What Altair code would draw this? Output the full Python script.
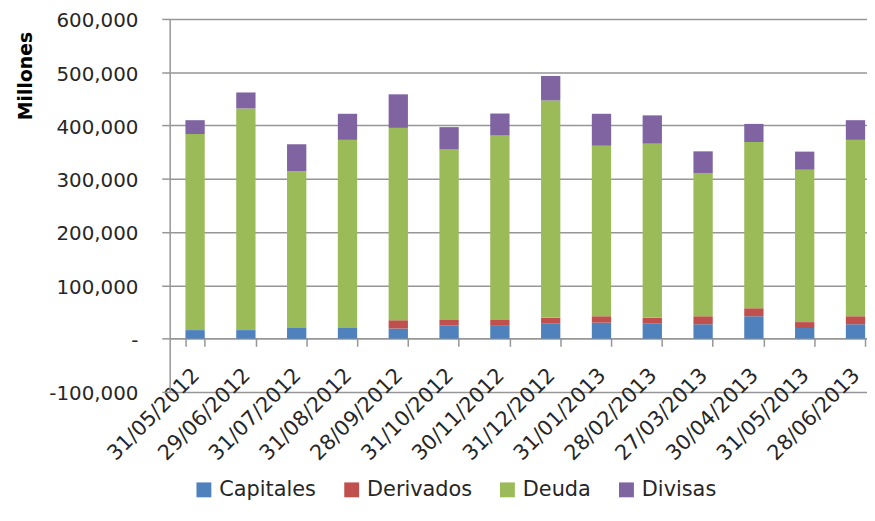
import altair as alt
import pandas as pd

fechas = ["31/05/2012", "29/06/2012", "31/07/2012", "31/08/2012", "28/09/2012",
          "31/10/2012", "30/11/2012", "31/12/2012", "31/01/2013", "28/02/2013",
          "27/03/2013", "30/04/2013", "31/05/2013", "28/06/2013"]
capitales = [16000, 16000, 20000, 20000, 19000, 25000, 24000, 28000, 30000, 28000, 27000, 42000, 20000, 27000]
derivados = [0, 0, 0, 0, 15500, 10000, 11000, 11000, 12000, 11000, 15000, 15000, 11000, 15000]
deuda = [368000, 416000, 294000, 353000, 361000, 320000, 346000, 408000, 320000, 327000, 268000, 312000, 286000, 331000]
divisas = [26000, 30000, 51000, 49000, 63000, 42000, 41500, 46000, 60000, 53000, 41500, 34000, 34000, 37000]

series = ["Capitales", "Derivados", "Deuda", "Divisas"]
colores = ["#4F81BD", "#C0504D", "#9BBB59", "#8064A2"]
y_ticks = [-100000, 0, 100000, 200000, 300000, 400000, 500000, 600000]

rows = []
for i, f in enumerate(fechas):
    for k, vals in enumerate([capitales, derivados, deuda, divisas]):
        rows.append({"Fecha": f, "Serie": series[k], "Valor": vals[i], "orden": k})
df = pd.DataFrame(rows)

FONT = "DejaVu Sans"
TXT = "#262626"
GRAY = "#969696"

y_label_expr = (
    "datum.value === 0 ? '-\u00a0\u00a0\u00a0\u00a0' : "
    "(datum.value < 0 ? '-' + format(-datum.value, ',') : format(datum.value, ','))"
)

chart = alt.Chart(df).mark_bar().encode(
    x=alt.X("Fecha:N", sort=fechas, title=None,
            scale=alt.Scale(range=[0, 717], paddingInner=0.62, paddingOuter=0.31),
            axis=alt.Axis(labelAngle=315, offset=-54, tickBand="extent",
                          domainColor=GRAY, domainWidth=1.5, tickColor=GRAY, tickWidth=1.5,
                          tickSize=8, labelFontSize=21, labelPadding=18, labelOffset=-7,
                          labelColor=TXT, labelFont=FONT, grid=False)),
    y=alt.Y("Valor:Q", stack="zero", title="Millones",
            scale=alt.Scale(domain=[-100000, 600000], nice=False),
            axis=alt.Axis(values=y_ticks, labelExpr=y_label_expr,
                          grid=True, gridColor=GRAY, gridWidth=1.5,
                          domainColor=GRAY, domainWidth=1.5, tickColor=GRAY, tickWidth=1.5,
                          tickSize=8, labelPadding=24, labelFontSize=20, labelFont=FONT,
                          labelOffset=2,
                          labelColor=TXT, titleFont=FONT, titleFontSize=19,
                          titleFontWeight="bold", titleColor="#000000",
                          titleX=-145, titleY=57, titleAngle=270,
                          titleAlign="center", titleBaseline="middle")),
    color=alt.Color("Serie:N", scale=alt.Scale(domain=series, range=colores),
                    legend=alt.Legend(orient="none", legendX=24, legendY=464,
                                      direction="horizontal", title=None,
                                      symbolType="square", symbolSize=225,
                                      symbolStrokeWidth=0, labelFontSize=21,
                                      labelFont=FONT, labelColor=TXT,
                                      columnPadding=25, labelOffset=5)),
    order=alt.Order("orden:Q", sort="ascending"),
).properties(
    width=703, height=376,
    autosize=alt.AutoSizeParams(type="none"),
    padding={"left": 163, "top": 9, "right": 0, "bottom": 115},
).configure_view(stroke=None)

chart.save("out.html", embed_options={"renderer": "svg", "actions": False})
